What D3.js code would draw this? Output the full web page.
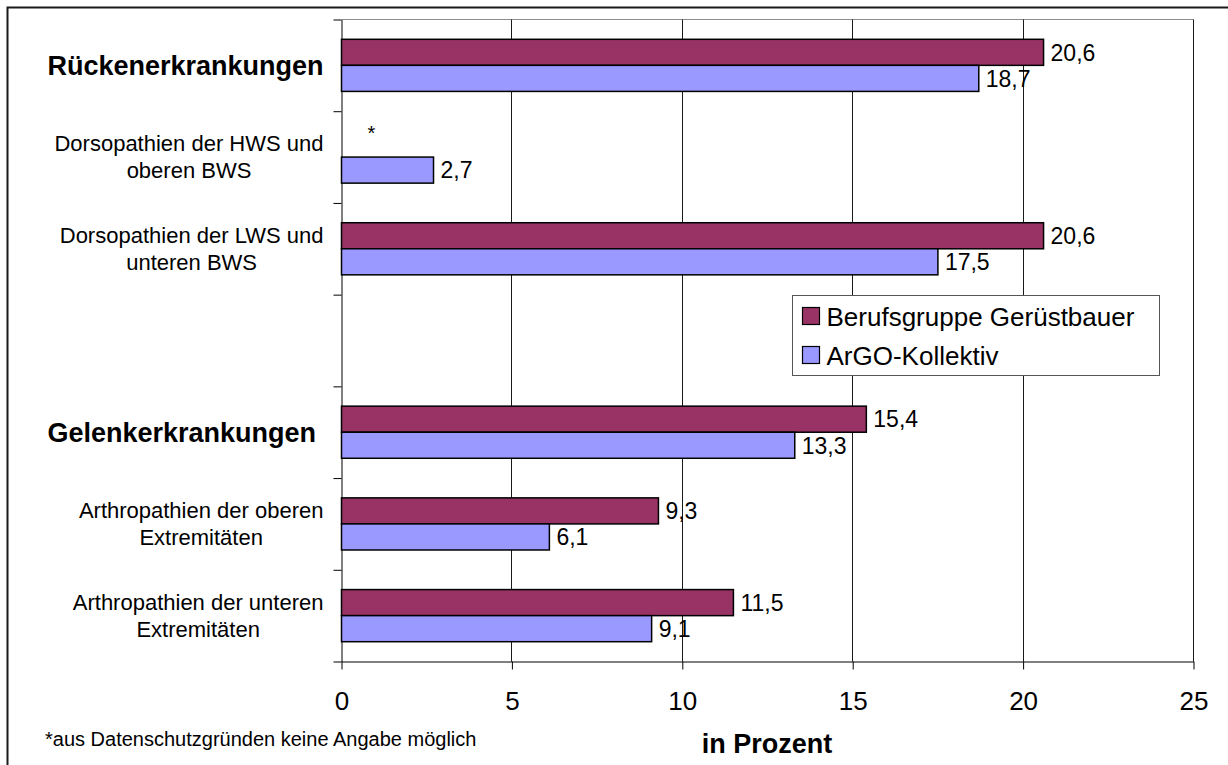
<!DOCTYPE html>
<html>
<head>
<meta charset="utf-8">
<script src="https://cdn.jsdelivr.net/npm/d3@7"></script>
<style>
  body { margin: 0; background: #fff; }
  svg text { font-family: "Liberation Sans", Arial, sans-serif; fill: #000; }
</style>
</head>
<body>
<div id="chart"></div>
<script>
// chart values
var categories = [
    "Rückenerkrankungen",
    "Dorsopathien der HWS und\noberen BWS",
    "Dorsopathien der LWS und\nunteren BWS",
    "",
    "Gelenkerkrankungen ",
    "Arthropathien der oberen\nExtremitäten",
    "Arthropathien der unteren\nExtremitäten"
];
var boldCategories = ["Rückenerkrankungen", "Gelenkerkrankungen "];
var series = ["Berufsgruppe Gerüstbauer", "ArGO-Kollektiv"];
var geruestbauer = [20.6, null, 20.6, null, 15.4, 9.3, 11.5];
var argo = [18.7, 2.7, 17.5, null, 13.3, 6.1, 9.1];
var xTicks = [0, 5, 10, 15, 20, 25];
var xTitle = "in Prozent";
var footnote = "*aus Datenschutzgründen keine Angabe möglich";

var colors = ["#993366", "#9999ff"];

// set the dimensions and margins of the graph
var W = 1228, H = 765;
var margin = { top: 19, right: 35, bottom: 104, left: 341 },
    width = W - margin.left - margin.right,
    height = H - margin.top - margin.bottom;

var svg = d3.select("#chart")
    .append("svg")
    .attr("width", W)
    .attr("height", H);

// outer frame
svg.append("rect")
    .attr("x", 7.5)
    .attr("y", 7.5)
    .attr("width", W + 50)
    .attr("height", H + 50)
    .attr("fill", "none")
    .attr("stroke", "#1a1a1a")
    .attr("stroke-width", 2);

var g = svg.append("g")
    .attr("transform", "translate(" + (margin.left + 0.5) + "," + (margin.top + 0.5) + ")");

// scales
var x = d3.scaleLinear()
    .domain([0, 25])
    .range([0, width]);

var y = d3.scaleBand()
    .domain(categories)
    .range([0, height]);

var ySub = d3.scaleBand()
    .domain(series)
    .range([0, y.bandwidth()])
    .paddingOuter(0.76);

var yEdge = d3.scaleLinear()
    .domain([0, categories.length])
    .range([0, height]);

// plot area top border
g.append("line")
    .attr("x1", 0)
    .attr("x2", width)
    .attr("y1", 0)
    .attr("y2", 0)
    .attr("stroke", "#8c8c8c");

// vertical grid lines
g.selectAll(".grid")
    .data(xTicks.filter(function (d) { return d > 0; }))
    .enter()
    .append("line")
    .attr("class", "grid")
    .attr("x1", function (d) { return Math.round(x(d)); })
    .attr("x2", function (d) { return Math.round(x(d)); })
    .attr("y1", 0)
    .attr("y2", height)
    .attr("stroke", "#1a1a1a");

// x axis
var xAxis = g.append("g")
    .attr("class", "x axis")
    .attr("transform", "translate(0," + height + ")")
    .call(d3.axisBottom(x)
        .tickValues(xTicks)
        .tickSize(8)
        .tickSizeOuter(0)
        .tickPadding(22)
        .tickFormat(function (d) { return d; }));
xAxis.selectAll("text")
    .attr("font-size", 26)
    .attr("font-family", null);
xAxis.selectAll("line, path").attr("stroke", "#000");

// y axis (ticks between the categories)
var yAxis = g.append("g")
    .attr("class", "y axis")
    .call(d3.axisLeft(yEdge)
        .tickValues(d3.range(categories.length + 1))
        .tickSize(8)
        .tickSizeOuter(0)
        .tickFormat(""));
yAxis.selectAll("line, path").attr("stroke", "#000");

// bars
var rows = categories.map(function (c, i) {
    return {
        cat: c,
        values: [
            { key: series[0], value: geruestbauer[i] },
            { key: series[1], value: argo[i] }
        ]
    };
});

var groups = g.selectAll(".cat")
    .data(rows)
    .enter()
    .append("g")
    .attr("class", "cat")
    .attr("transform", function (d) { return "translate(0," + y(d.cat) + ")"; });

groups.selectAll("rect")
    .data(function (d) { return d.values.filter(function (v) { return v.value != null; }); })
    .enter()
    .append("rect")
    .attr("x", x(0))
    .attr("y", function (d) { return ySub(d.key); })
    .attr("width", function (d) { return x(d.value) - x(0); })
    .attr("height", ySub.bandwidth())
    .attr("fill", function (d) { return colors[series.indexOf(d.key)]; })
    .attr("stroke", "#000")
    .attr("stroke-width", 1.5);

// value labels
groups.selectAll(".val")
    .data(function (d) { return d.values.filter(function (v) { return v.value != null; }); })
    .enter()
    .append("text")
    .attr("class", "val")
    .attr("x", function (d) { return x(d.value) + 7; })
    .attr("y", function (d) { return ySub(d.key) + ySub.bandwidth() / 2; })
    .attr("dy", "0.36em")
    .attr("font-size", 23)
    .text(function (d) { return String(d.value).replace(".", ","); });

// asterisk where no value may be given
groups.filter(function (d) { return d.cat !== ""; })
    .selectAll(".star")
    .data(function (d) { return d.values.filter(function (v) { return v.value == null; }); })
    .enter()
    .append("text")
    .attr("class", "star")
    .attr("x", x(0) + 26)
    .attr("y", function (d) { return ySub(d.key) + ySub.bandwidth() / 2 - 4; })
    .attr("font-size", 20)
    .text("*");

// category labels, lines centred in a block that ends at the right edge
var labelRight = 323 - margin.left;
var lineHeight = 27;
categories.forEach(function (c) {
    if (c === "") return;
    var lines = c.split("\n");
    var bold = boldCategories.indexOf(c) >= 0;
    var t = g.append("text")
        .attr("font-size", bold ? 27 : 22)
        .attr("font-weight", bold ? "bold" : "normal")
        .attr("text-anchor", "middle")
        .style("white-space", "pre");
    lines.forEach(function (l, i) {
        t.append("tspan")
            .attr("x", 0)
            .attr("y", y(c) + y.bandwidth() / 2 + (i - (lines.length - 1) / 2) * lineHeight)
            .attr("dy", "0.36em")
            .text(l);
    });
    var w = d3.max(t.selectAll("tspan").nodes(), function (n) { return n.getComputedTextLength(); });
    t.selectAll("tspan").attr("x", labelRight - w / 2);
});

// legend
var legend = svg.append("g")
    .attr("transform", "translate(792.5,295.5)");
legend.append("rect")
    .attr("width", 367)
    .attr("height", 80)
    .attr("fill", "#fff")
    .attr("stroke", "#555");
var items = legend.selectAll(".legend")
    .data(series)
    .enter()
    .append("g")
    .attr("class", "legend")
    .attr("transform", function (d, i) { return "translate(0," + (i * 39) + ")"; });
items.append("rect")
    .attr("x", 10)
    .attr("y", 12)
    .attr("width", 17)
    .attr("height", 17)
    .attr("fill", function (d, i) { return colors[i]; })
    .attr("stroke", "#000")
    .attr("stroke-width", 1.2);
items.append("text")
    .attr("x", 34)
    .attr("y", 30)
    .attr("font-size", 26)
    .text(function (d) { return d; });

// axis title and footnote
svg.append("text")
    .attr("x", margin.left + x(12.5))
    .attr("y", 753)
    .attr("text-anchor", "middle")
    .attr("font-size", 27)
    .attr("font-weight", "bold")
    .text(xTitle);

svg.append("text")
    .attr("x", 45)
    .attr("y", 746)
    .attr("font-size", 20)
    .text(footnote);
</script>
</body>
</html>
